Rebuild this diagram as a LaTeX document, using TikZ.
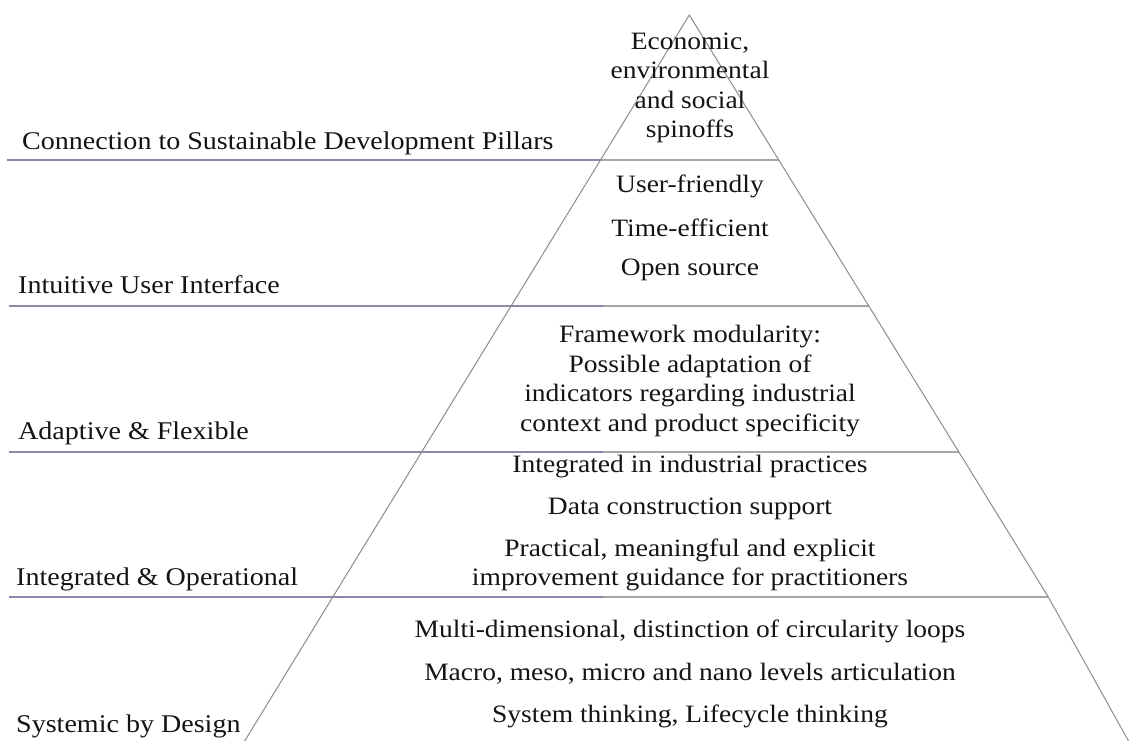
\documentclass[tikz,border=0pt]{standalone}
\usepackage{fontspec}
\setmainfont[FakeStretch=1.1]{Liberation Serif}
\usetikzlibrary{calc}
\definecolor{lilac}{HTML}{9086AA}
\definecolor{tierline}{HTML}{A6A6A6}
\definecolor{edge}{HTML}{8C8C8C}
\definecolor{ink}{HTML}{141414}
\begin{document}
\begin{tikzpicture}[x=1pt,y=-1pt,
  txt/.style={font=\fontsize{25}{29.5}\selectfont, text=ink, inner sep=0pt, align=center},
  lbl/.style={font=\fontsize{25.5}{30}\selectfont, text=ink, inner sep=0pt, anchor=base west},
  under/.style={draw=lilac, line width=1.3pt},
  tier/.style={draw=tierline, line width=1.3pt},
  side/.style={draw=edge, line width=1pt}]
\useasboundingbox (0,0) rectangle (1129,740);
\begin{scope}
\clip (0,0) rectangle (1129,740);
\coordinate (apex) at (689.3,15);
\coordinate (bl) at ($(apex)+(-0.6125*760,760)$);
\coordinate (rk) at (1048.3,597);
\coordinate (br) at ($(rk)+(0.557*160,160)$);
% label underlines
\coordinate (u1a) at (7,160);   \coordinate (u1b) at (602,160);
\coordinate (u2a) at (9,306);   \coordinate (u2b) at (607,306);
\coordinate (u3a) at (9,452);   \coordinate (u3b) at (607,452);
\coordinate (u4a) at (9,597);   \coordinate (u4b) at (607,597);
\draw[under] (u1a) -- (u1b);
\draw[under] (u2a) -- (u2b);
\draw[under] (u3a) -- (u3b);
\draw[under] (u4a) -- (u4b);
% tier lines inside the pyramid
\coordinate (t1a) at (600.5,160); \coordinate (t1b) at (778.7,160);
\coordinate (t2a) at (603,306);   \coordinate (t2b) at (868.8,306);
\coordinate (t3a) at (603,452);   \coordinate (t3b) at (958.9,452);
\coordinate (t4a) at (603,597);   \coordinate (t4b) at (rk);
\draw[tier] (t1a) -- (t1b);
\draw[tier] (t2a) -- (t2b);
\draw[tier] (t3a) -- (t3b);
\draw[tier] (t4a) -- (t4b);
% pyramid sides
\draw[side] (bl) -- (apex) -- (rk) -- (br);
\end{scope}
% left labels
\node[lbl] (l1) at (22,149) {Connection to Sustainable Development Pillars};
\node[lbl] (l2) at (18,293) {Intuitive User Interface};
\node[lbl] (l3) at (18,439) {Adaptive \& Flexible};
\node[lbl] (l4) at (16,585) {Integrated \& Operational};
\node[lbl] (l5) at (16,732) {Systemic by Design};
% pyramid contents
\node[txt] (p1) at (690,88) {Economic,\\environmental\\and social\\spinoffs};
\node[txt] (p2a) at (690,186) {User-friendly};
\node[txt] (p2b) at (690,228) {Time-efficient};
\node[txt] (p2c) at (690,270) {Open source};
\node[txt] (p3) at (690,381) {Framework modularity:\\Possible adaptation of\\indicators regarding industrial\\context and product specificity};
\node[txt] (p4a) at (690,467) {Integrated in industrial practices};
\node[txt] (p4b) at (690,509) {Data construction support};
\node[txt] (p4c) at (690,565) {Practical, meaningful and explicit\\improvement guidance for practitioners};
\node[txt] (p5a) at (690,631) {Multi-dimensional, distinction of circularity loops};
\node[txt] (p5b) at (690,674) {Macro, meso, micro and nano levels articulation};
\node[txt] (p5c) at (690,716) {System thinking, Lifecycle thinking};
\end{tikzpicture}
\end{document}
